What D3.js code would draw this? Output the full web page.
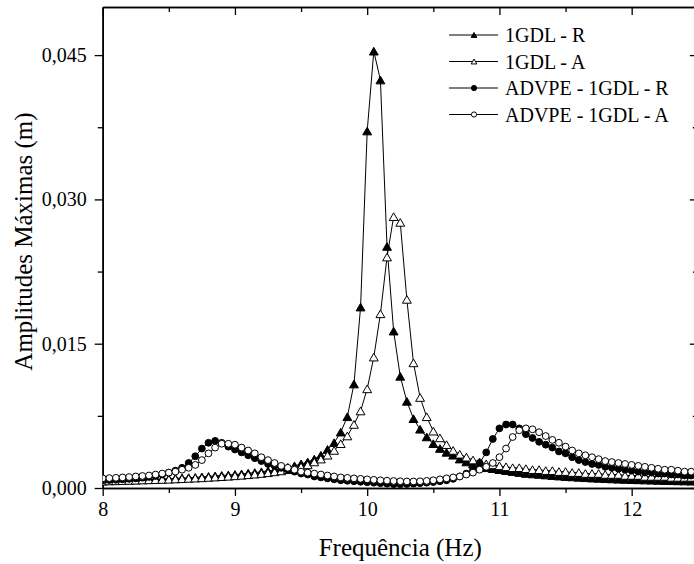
<!DOCTYPE html>
<html>
<head>
<meta charset="utf-8">
<script src="https://cdn.jsdelivr.net/npm/d3@7/dist/d3.min.js"></script>
<style>
  html, body { margin: 0; padding: 0; background: #fff; }
  svg { display: block; font-family: "Liberation Serif", "Times New Roman", serif; }
</style>
</head>
<body>
<svg id="chart" width="694" height="564"></svg>
<script>
// Excitation frequency (Hz)
const freq = [
  8.00, 8.05, 8.10, 8.15, 8.20, 8.25, 8.30, 8.35, 8.40, 8.45,
  8.50, 8.55, 8.60, 8.65, 8.70, 8.75, 8.80, 8.85, 8.90, 8.95,
  9.00, 9.05, 9.10, 9.15, 9.20, 9.25, 9.30, 9.35, 9.40, 9.45,
  9.50, 9.55, 9.60, 9.65, 9.70, 9.75, 9.80, 9.85, 9.90, 9.95,
  10.00, 10.05, 10.10, 10.15, 10.20, 10.25, 10.30, 10.35, 10.40, 10.45,
  10.50, 10.55, 10.60, 10.65, 10.70, 10.75, 10.80, 10.85, 10.90, 10.95,
  11.00, 11.05, 11.10, 11.15, 11.20, 11.25, 11.30, 11.35, 11.40, 11.45,
  11.50, 11.55, 11.60, 11.65, 11.70, 11.75, 11.80, 11.85, 11.90, 11.95,
  12.00, 12.05, 12.10, 12.15, 12.20, 12.25, 12.30, 12.35, 12.40, 12.45,
  12.50
];

// Maximum amplitudes (m)
const gdlR = [
  0.00074, 0.00076, 0.00078, 0.00080, 0.00082, 0.00084, 0.00086, 0.00089, 0.00091, 0.00094,
  0.00097, 0.00100, 0.00104, 0.00107, 0.00110, 0.00115, 0.00120, 0.00125, 0.00130, 0.00135,
  0.00140, 0.00146, 0.00153, 0.00160, 0.00168, 0.00177, 0.00188, 0.00200, 0.00214, 0.00230,
  0.00250, 0.00270, 0.00300, 0.00340, 0.00400, 0.00470, 0.00580, 0.00740, 0.01080, 0.01880,
  0.03710, 0.04540, 0.04240, 0.02510, 0.01630, 0.01160, 0.00900, 0.00720, 0.00610, 0.00530,
  0.00460, 0.00410, 0.00370, 0.00340, 0.00300, 0.00270, 0.00250, 0.00230, 0.00210, 0.00200,
  0.00190, 0.00180, 0.00170, 0.00160, 0.00150, 0.00145, 0.00140, 0.00134, 0.00128, 0.00123,
  0.00118, 0.00114, 0.00110, 0.00106, 0.00102, 0.00099, 0.00096, 0.00093, 0.00090, 0.00088,
  0.00086, 0.00084, 0.00082, 0.00080, 0.00078, 0.00076, 0.00075, 0.00073, 0.00072, 0.00070,
  0.00069
];

const gdlA = [
  0.00070, 0.00072, 0.00074, 0.00076, 0.00078, 0.00080, 0.00082, 0.00084, 0.00086, 0.00088,
  0.00090, 0.00093, 0.00096, 0.00099, 0.00102, 0.00105, 0.00109, 0.00113, 0.00117, 0.00121,
  0.00126, 0.00131, 0.00137, 0.00143, 0.00150, 0.00158, 0.00167, 0.00177, 0.00190, 0.00200,
  0.00220, 0.00240, 0.00270, 0.00300, 0.00340, 0.00390, 0.00460, 0.00540, 0.00660, 0.00800,
  0.01030, 0.01360, 0.01810, 0.02400, 0.02820, 0.02760, 0.01960, 0.01300, 0.00940, 0.00740,
  0.00590, 0.00520, 0.00450, 0.00390, 0.00350, 0.00320, 0.00290, 0.00270, 0.00250, 0.00240,
  0.00230, 0.00220, 0.00210, 0.00210, 0.00200, 0.00190, 0.00190, 0.00180, 0.00180, 0.00170,
  0.00170, 0.00160, 0.00160, 0.00150, 0.00150, 0.00150, 0.00140, 0.00140, 0.00140, 0.00130,
  0.00130, 0.00130, 0.00120, 0.00120, 0.00120, 0.00120, 0.00110, 0.00110, 0.00110, 0.00110,
  0.00100
];

const advpeR = [
  0.00080, 0.00083, 0.00086, 0.00090, 0.00095, 0.00100, 0.00107, 0.00115, 0.00125, 0.00140,
  0.00160, 0.00180, 0.00210, 0.00260, 0.00330, 0.00410, 0.00470, 0.00490, 0.00470, 0.00430,
  0.00400, 0.00370, 0.00340, 0.00310, 0.00280, 0.00250, 0.00230, 0.00210, 0.00190, 0.00170,
  0.00150, 0.00140, 0.00120, 0.00110, 0.00100, 0.00090, 0.00080, 0.00075, 0.00070, 0.00065,
  0.00060, 0.00055, 0.00050, 0.00045, 0.00040, 0.00040, 0.00042, 0.00045, 0.00050, 0.00055,
  0.00062, 0.00070, 0.00080, 0.00095, 0.00120, 0.00150, 0.00190, 0.00260, 0.00370, 0.00510,
  0.00620, 0.00660, 0.00660, 0.00620, 0.00560, 0.00520, 0.00480, 0.00450, 0.00420, 0.00380,
  0.00360, 0.00320, 0.00290, 0.00270, 0.00250, 0.00240, 0.00220, 0.00210, 0.00200, 0.00190,
  0.00180, 0.00170, 0.00160, 0.00160, 0.00150, 0.00150, 0.00140, 0.00140, 0.00130, 0.00130,
  0.00120
];

const advpeA = [
  0.00100, 0.00103, 0.00106, 0.00110, 0.00114, 0.00120, 0.00125, 0.00130, 0.00140, 0.00150,
  0.00160, 0.00170, 0.00190, 0.00210, 0.00240, 0.00290, 0.00360, 0.00420, 0.00460, 0.00460,
  0.00450, 0.00420, 0.00390, 0.00360, 0.00320, 0.00290, 0.00260, 0.00230, 0.00210, 0.00190,
  0.00170, 0.00160, 0.00150, 0.00140, 0.00130, 0.00120, 0.00110, 0.00105, 0.00100, 0.00095,
  0.00090, 0.00085, 0.00080, 0.00076, 0.00073, 0.00070, 0.00068, 0.00068, 0.00070, 0.00074,
  0.00080, 0.00090, 0.00100, 0.00110, 0.00120, 0.00140, 0.00160, 0.00190, 0.00220, 0.00260,
  0.00320, 0.00410, 0.00530, 0.00600, 0.00620, 0.00610, 0.00580, 0.00540, 0.00500, 0.00470,
  0.00430, 0.00390, 0.00360, 0.00340, 0.00320, 0.00300, 0.00280, 0.00270, 0.00260, 0.00250,
  0.00240, 0.00230, 0.00220, 0.00210, 0.00200, 0.00190, 0.00190, 0.00180, 0.00170, 0.00170,
  0.00160
];

const seriesNames = ["1GDL - R", "1GDL - A", "ADVPE - 1GDL - R", "ADVPE - 1GDL - A"];
const seriesValues = [gdlR, gdlA, advpeR, advpeA];
const seriesSymbols = ["triangle", "triangle", "circle", "circle"];
const seriesFilled = [true, false, true, false];

const xTicks = [8, 9, 10, 11, 12];
const xMinorTicks = [8.5, 9.5, 10.5, 11.5, 12.5];
const yTicks = [0, 0.015, 0.030, 0.045];
const yMinorTicks = [0.0075, 0.0225, 0.0375];

const xTitle = "Frequência (Hz)";
const yTitle = "Amplitudes Máximas (m)";

// ---- layout ----
const svg = d3.select("#chart");
const plotL = 102.7, plotT = 7, plotR = 697.8, plotB = 488;

const x = d3.scaleLinear().domain([8, 12.5]).range([plotL, plotR]);
const y = d3.scaleLinear().domain([0, 0.05]).range([plotB, plotT]);

const fmtY = v => d3.format(".3f")(v).replace(".", ",");

const axisStroke = 1.6;

// bottom axis (outward ticks)
svg.append("g").attr("transform", `translate(0,${plotB})`)
  .call(d3.axisBottom(x).tickValues(xTicks).tickSize(8).tickSizeOuter(0).tickPadding(6).tickFormat(d3.format("d")));
svg.append("g").attr("transform", `translate(0,${plotB})`)
  .call(d3.axisBottom(x).tickValues(xMinorTicks).tickSize(5).tickSizeOuter(0).tickFormat(""));

// left axis (outward ticks)
svg.append("g").attr("transform", `translate(${plotL},0)`)
  .call(d3.axisLeft(y).tickValues(yTicks).tickSize(8).tickSizeOuter(0).tickPadding(8).tickFormat(fmtY));
svg.append("g").attr("transform", `translate(${plotL},0)`)
  .call(d3.axisLeft(y).tickValues(yMinorTicks).tickSize(5).tickSizeOuter(0).tickFormat(""));

// top axis (inward ticks)
svg.append("g").attr("transform", `translate(0,${plotT})`)
  .call(d3.axisTop(x).tickValues(xTicks).tickSize(-8).tickSizeOuter(0).tickFormat(""));
svg.append("g").attr("transform", `translate(0,${plotT})`)
  .call(d3.axisTop(x).tickValues(xMinorTicks).tickSize(-5).tickSizeOuter(0).tickFormat(""));

// right axis (inward ticks)
svg.append("g").attr("transform", `translate(${plotR},0)`)
  .call(d3.axisRight(y).tickValues(yTicks).tickSize(-8).tickSizeOuter(0).tickFormat(""));
svg.append("g").attr("transform", `translate(${plotR},0)`)
  .call(d3.axisRight(y).tickValues(yMinorTicks).tickSize(-5).tickSizeOuter(0).tickFormat(""));

svg.selectAll(".domain").attr("stroke", "#000").attr("stroke-width", axisStroke);
svg.selectAll(".tick line").attr("stroke", "#000").attr("stroke-width", 1.3);
svg.selectAll(".tick text").attr("fill", "#000")
  .style("font-family", "'Liberation Serif', 'Times New Roman', serif")
  .style("font-size", "20px");

// axis titles
svg.append("text")
  .attr("x", (plotL + plotR) / 2).attr("y", 556)
  .attr("text-anchor", "middle")
  .style("font-size", "25px")
  .text(xTitle);

svg.append("text")
  .attr("transform", `translate(32,${(plotT + plotB) / 2 - 6}) rotate(-90)`)
  .attr("text-anchor", "middle")
  .style("font-size", "25px")
  .text(yTitle);

// ---- data ----
svg.append("clipPath").attr("id", "plotclip")
  .append("rect").attr("x", plotL).attr("y", plotT - 5).attr("width", plotR - plotL + 5).attr("height", plotB - plotT + 5);

const plot = svg.append("g").attr("clip-path", "url(#plotclip)");

const line = d3.line().x((d, i) => x(freq[i])).y(d => y(d));

const triSym = d3.symbol().type(d3.symbolTriangle).size(34);
const triSmall = d3.symbol().type(d3.symbolTriangle).size(14);

function drawMarker(g, kind, filled, cx, cy, small) {
  if (kind === "circle") {
    g.append("circle").attr("cx", cx).attr("cy", cy).attr("r", small ? 2.6 : 3.4)
      .attr("fill", filled ? "#000" : "#fff").attr("stroke", "#000").attr("stroke-width", 1);
  } else {
    g.append("path").attr("d", (small ? triSmall : triSym)())
      .attr("transform", `translate(${cx},${cy + (small ? 0.8 : 1.2)})`)
      .attr("fill", filled ? "#000" : "#fff").attr("stroke", "#000").attr("stroke-width", 1);
  }
}

seriesValues.forEach((vals, s) => {
  const g = plot.append("g");
  g.append("path").datum(vals).attr("d", line)
    .attr("fill", "none").attr("stroke", "#000").attr("stroke-width", 1);
  vals.forEach((v, i) => drawMarker(g, seriesSymbols[s], seriesFilled[s], x(freq[i]), y(v), false));
});

// ---- legend ----
const legendRows = [35, 61.5, 88, 114.5];
const legend = svg.append("g");
seriesNames.forEach((name, s) => {
  const cy = legendRows[s];
  legend.append("line").attr("x1", 449).attr("x2", 498).attr("y1", cy).attr("y2", cy)
    .attr("stroke", "#000").attr("stroke-width", 1);
  drawMarker(legend, seriesSymbols[s], seriesFilled[s], 474, cy, true);
  legend.append("text").attr("x", 505).attr("y", cy + 7)
    .style("font-size", "20px").text(name);
});
</script>
</body>
</html>
